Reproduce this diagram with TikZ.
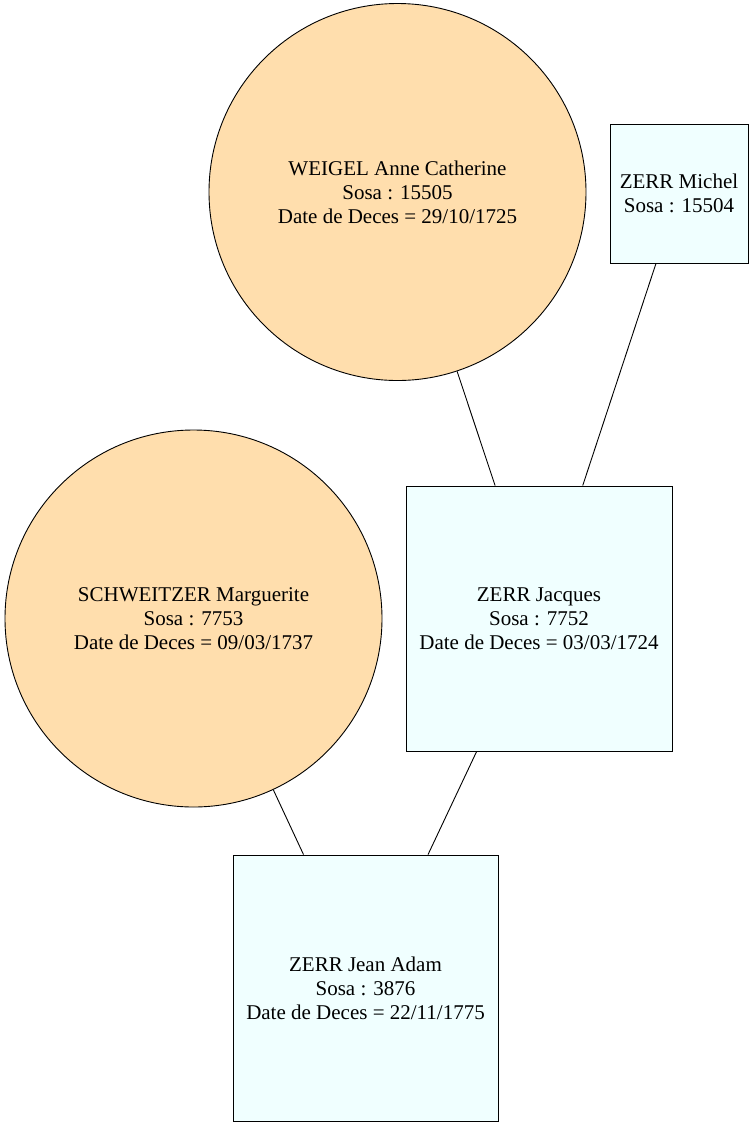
\documentclass[tikz,border=0pt]{standalone}
\usepackage{fontspec}
\setmainfont{Liberation Serif}
\definecolor{circfill}{HTML}{FFDEAD}
\definecolor{boxfill}{HTML}{F0FFFF}
\tikzset{
  person/.style={draw=black, line width=0.9pt, align=center, inner sep=0pt, font=\fontsize{21}{24}\selectfont},
  woman/.style={person, circle, fill=circfill, minimum size=377pt},
  man/.style={person, rectangle, fill=boxfill},
  link/.style={draw=black, line width=0.9pt}
}
\begin{document}
\begin{tikzpicture}[x=1pt,y=-1pt]
\useasboundingbox (0,0) rectangle (754,1128);
\node[woman] (weigel) at (397.5,192) {WEIGEL Anne Catherine\\Sosa : 15505\\Date de Deces = 29/10/1725};
\node[man, minimum width=138pt, minimum height=139pt] (michel) at (679,193.5) {ZERR Michel\\Sosa : 15504};
\node[woman] (schweitzer) at (193.5,618.5) {SCHWEITZER Marguerite\\Sosa : 7753\\Date de Deces = 09/03/1737};
\node[man, minimum width=266pt, minimum height=265pt] (jacques) at (539,618.5) {ZERR Jacques\\Sosa : 7752\\Date de Deces = 03/03/1724};
\node[man, minimum width=265pt, minimum height=266pt] (adam) at (365.5,988) {ZERR Jean Adam\\Sosa : 3876\\Date de Deces = 22/11/1775};
\draw[link] (weigel) -- (jacques);
\draw[link] (michel) -- (jacques);
\draw[link] (schweitzer) -- (adam);
\draw[link] (jacques) -- (adam);
\end{tikzpicture}
\end{document}
